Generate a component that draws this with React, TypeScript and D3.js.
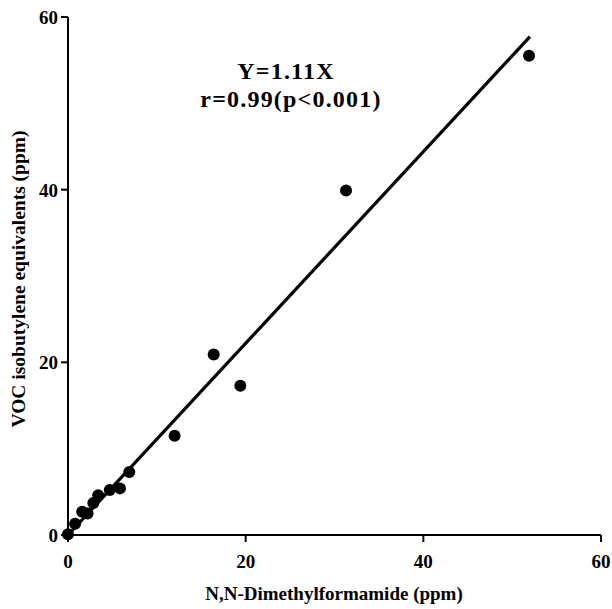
import React from "react";
import * as d3 from "d3";

const xValues = [0, 0.8, 1.6, 2.2, 2.85, 3.4, 4.7, 5.85, 6.9, 12.0, 16.4, 19.4, 31.3, 51.9];
const yValues = [0.1, 1.3, 2.7, 2.5, 3.7, 4.6, 5.2, 5.4, 7.3, 11.5, 20.9, 17.3, 39.9, 55.5];
const xTicks = [0, 20, 40, 60];
const yTicks = [0, 20, 40, 60];
const slope = 1.11;
const fitRange = [0, 52];
const equationLines = ["Y=1.11X", "r=0.99(p<0.001)"];
const xLabel = "N,N-Dimethylformamide (ppm)";
const yLabel = "VOC isobutylene equivalents (ppm)";

export default function App() {
  const W = 612, H = 609;
  const x = d3.scaleLinear().domain([0, 60]).range([68, 601]);
  const y = d3.scaleLinear().domain([0, 60]).range([535, 17]);
  const font = "'Liberation Serif', 'Times New Roman', serif";
  const line = d3.line<number>().x((d) => x(d)).y((d) => y(d * slope));
  return (
    <svg width={W} height={H} style={{ position: "absolute", left: 0, top: 0, background: "#fff" }}>
      <g fontFamily={font} fontWeight="bold" fill="#000">
        <line x1={x(0)} x2={x(60)} y1={y(0)} y2={y(0)} stroke="#000" strokeWidth={2} />
        <line x1={x(0)} x2={x(0)} y1={y(0)} y2={y(60)} stroke="#000" strokeWidth={2} />
        {xTicks.map((t) => (
          <g key={"x" + t}>
            <line x1={x(t)} x2={x(t)} y1={y(0)} y2={y(0) + 7} stroke="#000" strokeWidth={2} />
            <text x={x(t)} y={y(0) + 33} textAnchor="middle" fontSize={19}>{t}</text>
          </g>
        ))}
        {yTicks.map((t) => (
          <g key={"y" + t}>
            <line x1={x(0) - 7} x2={x(0)} y1={y(t)} y2={y(t)} stroke="#000" strokeWidth={2} />
            <text x={x(0) - 10} y={y(t) + 7} textAnchor="end" fontSize={19}>{t}</text>
          </g>
        ))}
        <path d={line(fitRange) || ""} stroke="#000" strokeWidth={3.2} fill="none" />
        {xValues.map((v, i) => (
          <circle key={i} cx={x(v)} cy={y(yValues[i])} r={6} fill="#000" />
        ))}
        <text x={286} y={79} textAnchor="middle" fontSize={24} letterSpacing={1.2}>{equationLines[0]}</text>
        <text x={291} y={107} textAnchor="middle" fontSize={24} letterSpacing={1.2}>{equationLines[1]}</text>
        <text x={334} y={600} textAnchor="middle" fontSize={19}>{xLabel}</text>
        <text transform={`translate(25, ${279}) rotate(-90)`} textAnchor="middle" fontSize={19.5}>{yLabel}</text>
      </g>
    </svg>
  );
}
